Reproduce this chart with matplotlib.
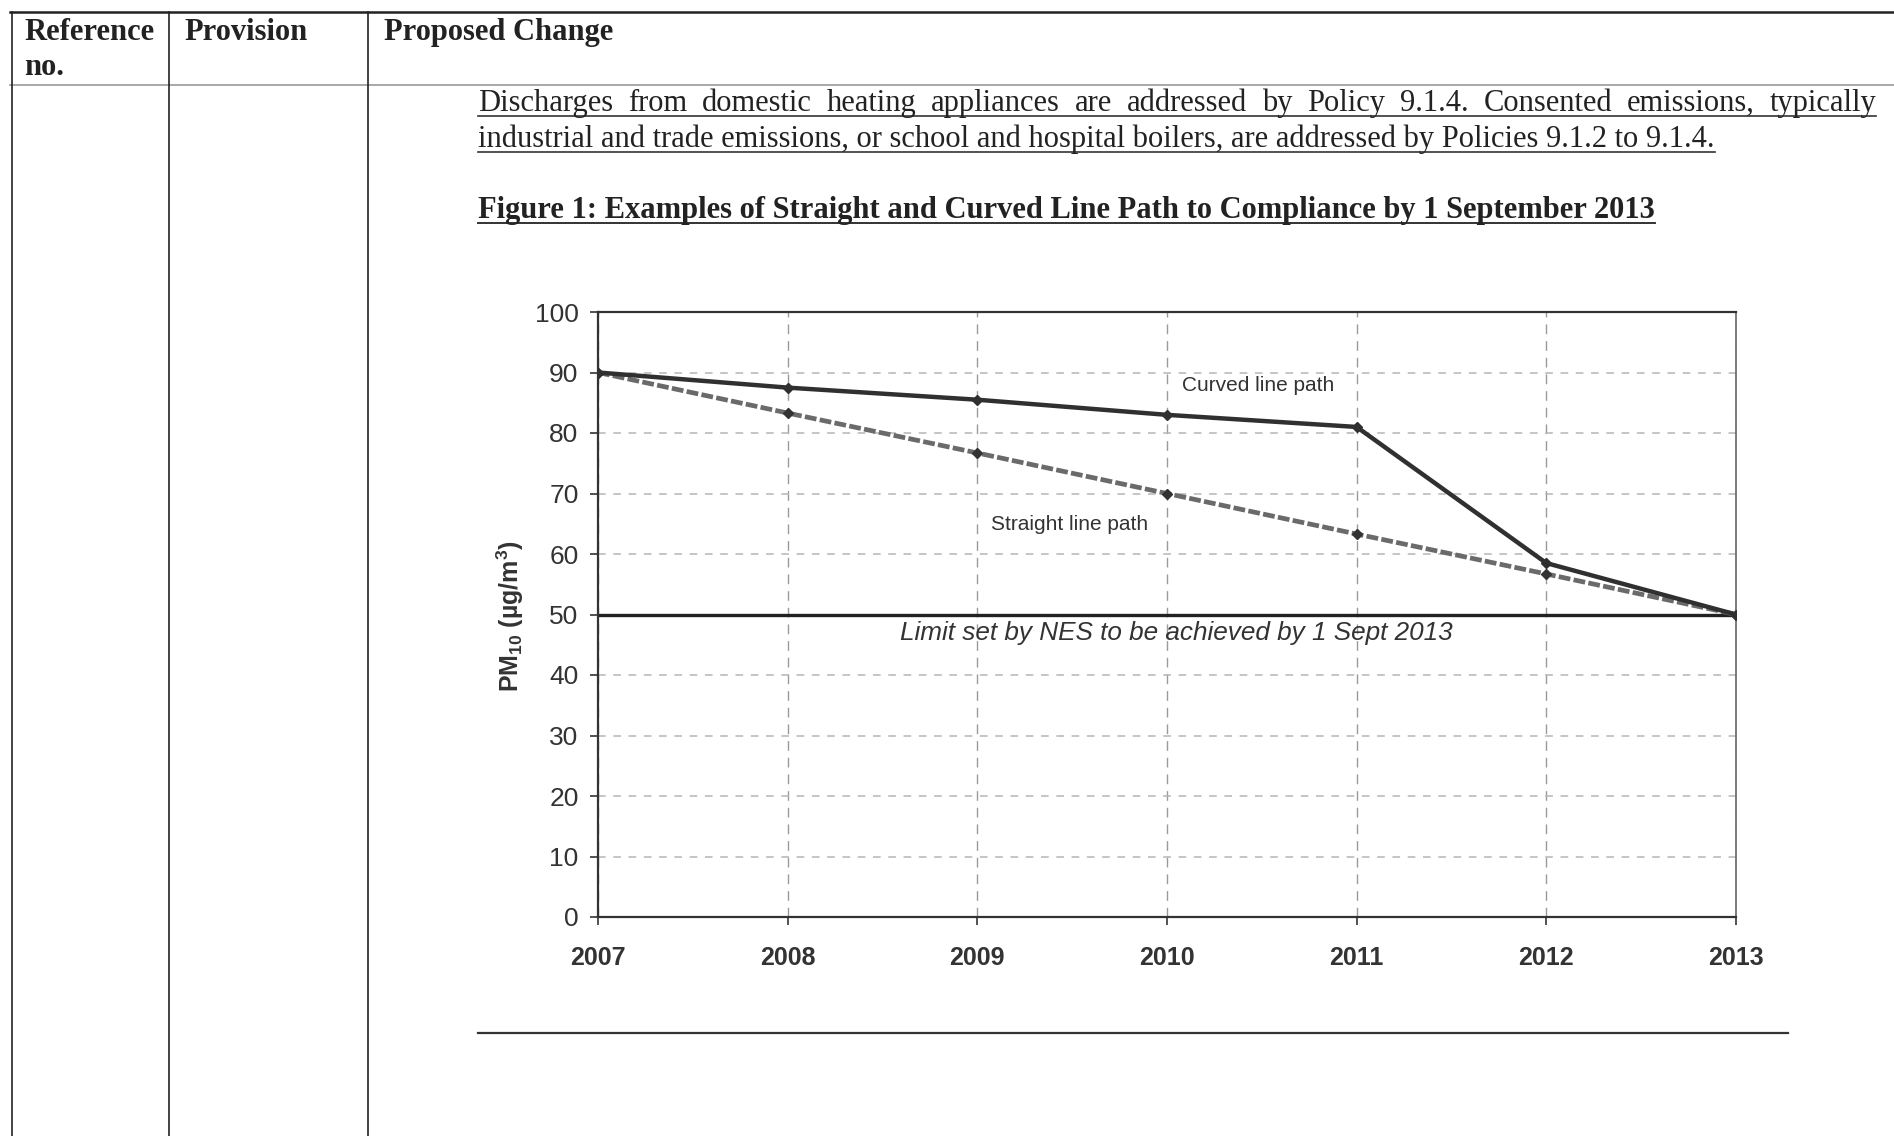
import matplotlib
matplotlib.use("Agg")
import matplotlib.pyplot as plt
from matplotlib.lines import Line2D

W, H = 1894, 1136

years = [2007, 2008, 2009, 2010, 2011, 2012, 2013]
curved = [90, 87.5, 85.5, 83, 81, 58.5, 50]
straight = [90, 83.3, 76.7, 70, 63.3, 56.7, 50]
limit = 50
yticks = [0, 10, 20, 30, 40, 50, 60, 70, 80, 90, 100]

para = [
    "Discharges from domestic heating appliances are addressed by Policy 9.1.4. Consented emissions, typically",
    "industrial and trade emissions, or school and hospital boilers, are addressed by Policies 9.1.2 to 9.1.4.",
]
fig_title = "Figure 1: Examples of Straight and Curved Line Path to Compliance by 1 September 2013"

plt.rcParams["mathtext.fontset"] = "custom"
plt.rcParams["mathtext.rm"] = "Liberation Sans:bold"
plt.rcParams["mathtext.bf"] = "Liberation Sans:bold"

fig = plt.figure(figsize=(W / 100, H / 100), dpi=100)
fig.patch.set_facecolor("white")


def fx(px):
    return px / W


def fy(py):
    return 1 - py / H


def hline(x0, x1, y, color="#222222", lw=1.5):
    fig.add_artist(Line2D([fx(x0), fx(x1)], [fy(y), fy(y)], color=color, lw=lw))


def vline(x, y0, y1, color="#222222", lw=1.2):
    fig.add_artist(Line2D([fx(x), fx(x)], [fy(y0), fy(y1)], color=color, lw=lw))


# table frame
hline(10, W, 12, lw=1.8)
hline(10, W, 85, color="#999999", lw=1.2)
for x in [12, 169, 368]:
    vline(x, 12, H)

serif = "Liberation Serif"
fs_head = 22
fig.text(fx(24), fy(40), "Reference", family=serif, weight="bold", size=fs_head, va="baseline", color="#222222")
fig.text(fx(24), fy(75), "no.", family=serif, weight="bold", size=fs_head, va="baseline", color="#222222")
fig.text(fx(184), fy(40), "Provision", family=serif, weight="bold", size=fs_head, va="baseline", color="#222222")
fig.text(fx(384), fy(40), "Proposed Change", family=serif, weight="bold", size=fs_head, va="baseline", color="#222222")

fig.canvas.draw()
renderer = fig.canvas.get_renderer()


def justified(line, x0, x1, y, size):
    words = line.split()
    arts = [fig.text(0, fy(y), w, family=serif, size=size, va="baseline", color="#222222")
            for w in words]
    widths = [a.get_window_extent(renderer).width for a in arts]
    gap = (x1 - x0 - sum(widths)) / (len(words) - 1)
    x = x0
    for a, w in zip(arts, widths):
        a.set_x(fx(x))
        x += w + gap
    hline(x0, x1, y + 5, color="#333333", lw=1.2)


def plain(line, x0, y, size, weight="normal"):
    t = fig.text(fx(x0), fy(y), line, family=serif, size=size, weight=weight,
                 va="baseline", color="#222222")
    w = t.get_window_extent(renderer).width
    hline(x0, x0 + w, y + 5, color="#333333", lw=1.4 if weight == "bold" else 1.2)


justified(para[0], 478, 1876, 111, 22)
plain(para[1], 478, 147, 22)
plain(fig_title, 478, 218, 22, weight="bold")

# line under the figure
hline(478, 1788, 1033, color="#333333", lw=1.6)

# chart
ax = fig.add_axes([fx(598), fy(917), fx(1736 - 598), (917 - 312) / H])
sans = "Liberation Sans"

ax.plot(years, straight, color="#6a6a6a", lw=3.4, dashes=(2.5, 0.7), marker="D",
        markersize=5, markerfacecolor="#333333", markeredgecolor="#333333", zorder=3)
ax.plot(years, curved, color="#303030", lw=3.2, marker="D", markersize=5,
        markerfacecolor="#303030", markeredgecolor="#303030", zorder=4)
ax.axhline(limit, color="#222222", lw=2.4, zorder=2)

ax.set_xlim(years[0], years[-1])
ax.set_ylim(0, 100)
ax.set_xticks(years)
ax.set_yticks(yticks)
ax.set_xticklabels([str(y) for y in years], family=sans, weight="bold", size=18, color="#333333")
ax.set_yticklabels([str(v) for v in yticks], family=sans, size=19, color="#333333")
ax.tick_params(axis="x", length=6, width=1.2, pad=15, color="#333333")
ax.tick_params(axis="y", length=6, width=1.2, pad=8, color="#333333")

ax.grid(axis="y", color="#b5b5b5", lw=1.1, dashes=(5, 5))
ax.grid(axis="x", color="#9a9a9a", lw=1.0, dashes=(7, 5))
ax.set_axisbelow(True)
for side in ["left", "bottom", "top"]:
    ax.spines[side].set_color("#333333")
    ax.spines[side].set_linewidth(1.6)
ax.spines["right"].set_color("#666666")
ax.spines["right"].set_linewidth(1.2)

ax.text(2010.08, 87.9, "Curved line path", family=sans, size=15, color="#333333", va="center")
ax.text(2009.07, 64.9, "Straight line path", family=sans, size=15, color="#333333", va="center")
ax.text(2010.05, 47.0, "Limit set by NES to be achieved by 1 Sept 2013", family=sans,
        style="italic", size=18.8, color="#333333", ha="center", va="center")

fig.text(fx(510), fy(616), r"PM$_{10}$ (µg/m$^3$)", family=sans, weight="bold", size=18,
         rotation=90, ha="center", va="center", color="#333333")

fig.savefig("out.png", dpi=100, facecolor="white")
